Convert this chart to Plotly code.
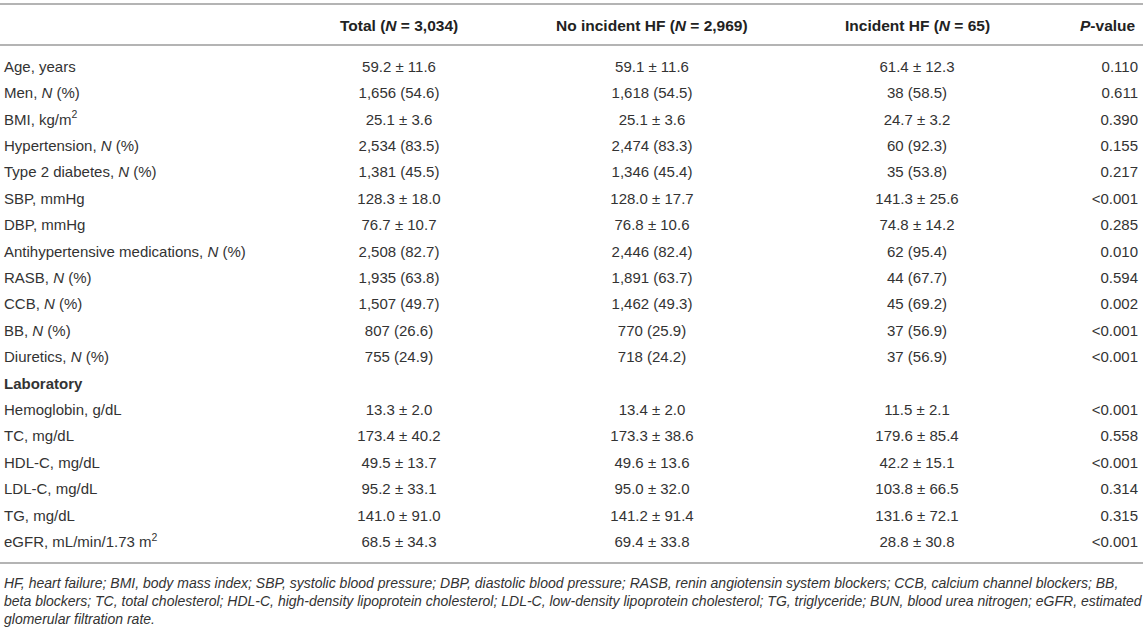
import plotly.graph_objs as go

labels = ["Age, years", "Men, <i>N</i> (%)", "BMI, kg/m<sup>2</sup>",
          "Hypertension, <i>N</i> (%)", "Type 2 diabetes, <i>N</i> (%)",
          "SBP, mmHg", "DBP, mmHg", "Antihypertensive medications, <i>N</i> (%)",
          "RASB, <i>N</i> (%)", "CCB, <i>N</i> (%)", "BB, <i>N</i> (%)",
          "Diuretics, <i>N</i> (%)", "<b>Laboratory</b>", "Hemoglobin, g/dL",
          "TC, mg/dL", "HDL-C, mg/dL", "LDL-C, mg/dL", "TG, mg/dL",
          "eGFR, mL/min/1.73 m<sup>2</sup>"]

total = ["59.2 ± 11.6", "1,656 (54.6)", "25.1 ± 3.6", "2,534 (83.5)", "1,381 (45.5)",
         "128.3 ± 18.0", "76.7 ± 10.7", "2,508 (82.7)", "1,935 (63.8)", "1,507 (49.7)",
         "807 (26.6)", "755 (24.9)", "", "13.3 ± 2.0", "173.4 ± 40.2", "49.5 ± 13.7",
         "95.2 ± 33.1", "141.0 ± 91.0", "68.5 ± 34.3"]

no_hf = ["59.1 ± 11.6", "1,618 (54.5)", "25.1 ± 3.6", "2,474 (83.3)", "1,346 (45.4)",
         "128.0 ± 17.7", "76.8 ± 10.6", "2,446 (82.4)", "1,891 (63.7)", "1,462 (49.3)",
         "770 (25.9)", "718 (24.2)", "", "13.4 ± 2.0", "173.3 ± 38.6", "49.6 ± 13.6",
         "95.0 ± 32.0", "141.2 ± 91.4", "69.4 ± 33.8"]

inc_hf = ["61.4 ± 12.3", "38 (58.5)", "24.7 ± 3.2", "60 (92.3)", "35 (53.8)",
          "141.3 ± 25.6", "74.8 ± 14.2", "62 (95.4)", "44 (67.7)", "45 (69.2)",
          "37 (56.9)", "37 (56.9)", "", "11.5 ± 2.1", "179.6 ± 85.4", "42.2 ± 15.1",
          "103.8 ± 66.5", "131.6 ± 72.1", "28.8 ± 30.8"]

p_value = ["0.110", "0.611", "0.390", "0.155", "0.217", "&lt;0.001", "0.285", "0.010",
           "0.594", "0.002", "&lt;0.001", "&lt;0.001", "", "&lt;0.001", "0.558",
           "&lt;0.001", "0.314", "0.315", "&lt;0.001"]

headers = ["", "Total (<i>N</i> = 3,034)", "No incident HF (<i>N</i> = 2,969)",
           "Incident HF (<i>N</i> = 65)", "<i>P</i>-value"]

footnote = [
    "HF, heart failure; BMI, body mass index; SBP, systolic blood pressure; DBP, diastolic blood pressure; "
    "RASB, renin angiotensin system blockers; CCB, calcium channel blockers; BB,",
    "beta blockers; TC, total cholesterol; HDL-C, high-density lipoprotein cholesterol; LDL-C, "
    "low-density lipoprotein cholesterol; TG, triglyceride; BUN, blood urea nitrogen; eGFR, estimated",
    "glomerular filtration rate.",
]

W, H = 1146, 633
FONT = "Liberation Sans, Arial, Helvetica, sans-serif"
TXT = "#333333"
RULE = "#b4b4b4"

# column anchors (px) and text position
col_x = [4, 399, 652, 917, 1138]
col_pos = ["middle right", "middle center", "middle center", "middle center", "middle left"]
columns = [labels, total, no_hf, inc_hf, p_value]

row0, step = 68, 26.4   # pixel centre of first row, row pitch


def px(y):
    # pixel row -> y data value
    return (y - row0) / step


fig = go.Figure()
for cx, pos, col in zip(col_x, col_pos, columns):
    rows = [i for i, t in enumerate(col) if t]
    fig.add_trace(go.Scatter(x=[cx] * len(rows), y=rows, mode="text",
                             text=[col[i] for i in rows],
                             textposition=pos, cliponaxis=False, hoverinfo="skip",
                             textfont=dict(family=FONT, size=15, color=TXT)))

# header row
head_anchor = ["left", "center", "center", "center", "right"]
for cx, anc, h in zip(col_x, head_anchor, headers):
    if h:
        fig.add_annotation(x=cx, y=px(25), xref="x", yref="y", text="<b>" + h + "</b>",
                           showarrow=False, xanchor=anc, yanchor="middle",
                           font=dict(family=FONT, size=15.5, color="#222222"))

# rules
for py in [4, 45, 563]:
    fig.add_shape(type="line", xref="x", yref="y", x0=0, x1=1143,
                  y0=px(py), y1=px(py), line=dict(color=RULE, width=2))

# footnote
for i, line in enumerate(footnote):
    fig.add_annotation(x=2, y=px(583 + 18.2 * i), xref="x", yref="y",
                       text="<i>" + line + "</i>", showarrow=False, xanchor="left",
                       yanchor="middle", font=dict(family=FONT, size=14, color=TXT))

fig.update_layout(width=W, height=H, margin=dict(l=0, r=0, t=0, b=0),
                  plot_bgcolor="white", paper_bgcolor="white", showlegend=False)
fig.update_xaxes(range=[0, W], visible=False, fixedrange=True)
fig.update_yaxes(range=[px(H), px(0)], visible=False, fixedrange=True)

fig.write_html("out.html", config={"displayModeBar": False},
               post_script="document.body.style.margin='0';")
